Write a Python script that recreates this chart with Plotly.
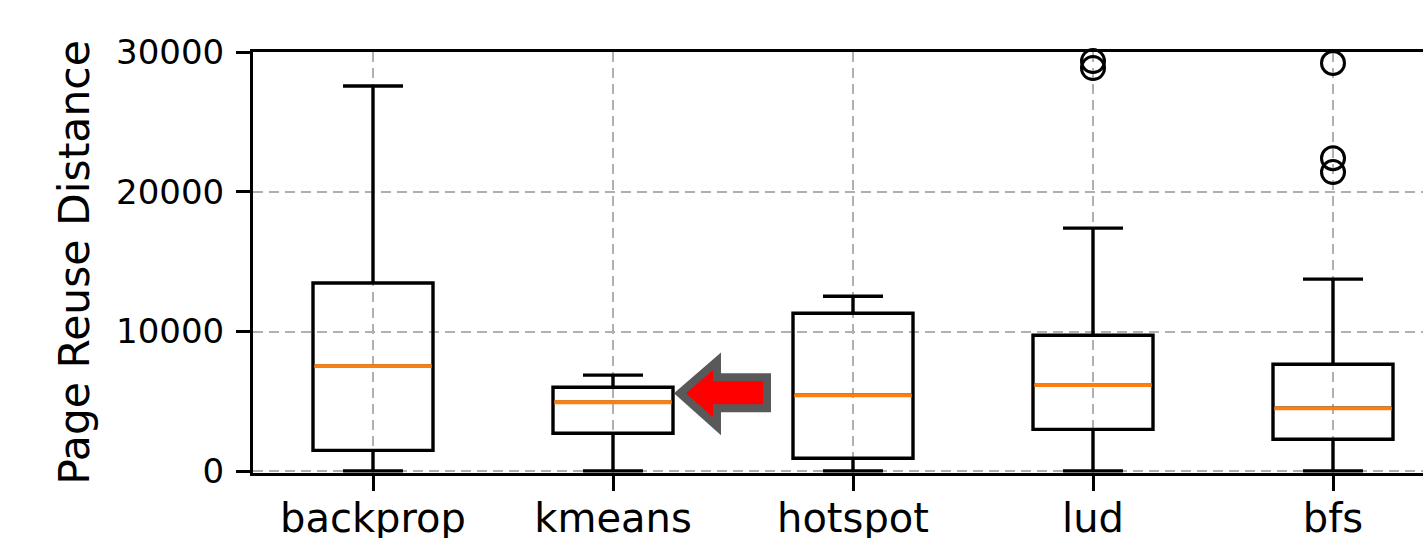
import plotly.graph_objects as go

categories = ["backprop", "kmeans", "hotspot", "lud", "bfs"]
lower_whisker = [30, 30, 30, 30, 30]
q1_vals = [1500, 2720, 930, 3000, 2290]
median_vals = [7520, 4940, 5440, 6160, 4510]
q3_vals = [13470, 6020, 11310, 9740, 7660]
upper_whisker = [27570, 6880, 12530, 17400, 13750]
outlier_cat = ["lud", "lud", "bfs", "bfs", "bfs"]
outlier_vals = [29350, 28850, 29210, 22400, 21410]

positions = list(range(1, len(categories) + 1))
pos_of = {c: p for c, p in zip(categories, positions)}
box_w = 0.5
font = "DejaVu Sans"

fig = go.Figure()
for p, lo, a, m, b, hi in zip(positions, lower_whisker, q1_vals, median_vals, q3_vals, upper_whisker):
    fig.add_trace(go.Box(
        x=[p], q1=[a], median=[m], q3=[b], lowerfence=[lo], upperfence=[hi],
        width=box_w, whiskerwidth=0.5, boxpoints=False,
        line=dict(color="black", width=3.4), fillcolor="rgba(0,0,0,0)",
        showlegend=False, hoverinfo="skip",
    ))

mx, my = [], []
for p, m in zip(positions, median_vals):
    mx += [p - box_w / 2 + 0.005, p + box_w / 2 - 0.005, None]
    my += [m, m, None]
fig.add_trace(go.Scatter(x=mx, y=my, mode="lines", line=dict(color="#ff7f0e", width=3.8),
                         showlegend=False, hoverinfo="skip"))

fig.add_trace(go.Scatter(
    x=[pos_of[c] for c in outlier_cat], y=outlier_vals, mode="markers",
    marker=dict(symbol="circle-open", size=23, color="black", line=dict(width=3, color="black")),
    cliponaxis=False, showlegend=False, hoverinfo="skip",
))

# red block arrow annotation (data coords)
def px2x(px):
    return 1 + (px - 374) / 240.0

def py2y(py):
    return (471 - py) * 71.6

pts = [(681, 393), (718, 361), (718, 377), (768, 377), (768, 408), (718, 408), (718, 426)]
path = "M " + " L ".join(f"{px2x(a):.4f},{py2y(b):.1f}" for a, b in pts) + " Z"
fig.add_shape(type="path", path=path, xref="x", yref="y",
              fillcolor="#ff0000", line=dict(color="#595959", width=8), layer="above")

fig.update_layout(
    width=1423, height=538,
    margin=dict(l=253, r=0, t=52, b=65),
    plot_bgcolor="white", paper_bgcolor="white",
    font=dict(family=font, size=34, color="black"),
    xaxis=dict(
        range=[0.5, 5.375], tickmode="array", tickvals=positions, ticktext=categories,
        tickfont=dict(size=40),
        showgrid=True, gridcolor="#b0b0b0", gridwidth=2, griddash="10px,6px",
        showline=True, linecolor="black", linewidth=3, mirror=True,
        ticks="outside", ticklen=15, tickwidth=3, tickcolor="black",
        zeroline=False, ticklabelstandoff=-7, automargin=False,
    ),
    yaxis=dict(
        range=[-120, 30000], tickmode="array", tickvals=[0, 10000, 20000, 30000],
        ticktext=["0", "10000", "20000", "30000"],
        tickfont=dict(size=34),
        showgrid=True, gridcolor="#b0b0b0", gridwidth=2, griddash="10px,6px",
        showline=True, linecolor="black", linewidth=3,
        ticks="outside", ticklen=14, tickwidth=3, tickcolor="black",
        zeroline=False, ticklabelstandoff=5, automargin=False,
        title=dict(text="Page Reuse Distance", standoff=14, font=dict(size=42.5)),
    ),
)

fig.write_html("out.html", config={"displayModeBar": False},
               post_script="document.body.style.margin='0';document.body.style.padding='0';")
